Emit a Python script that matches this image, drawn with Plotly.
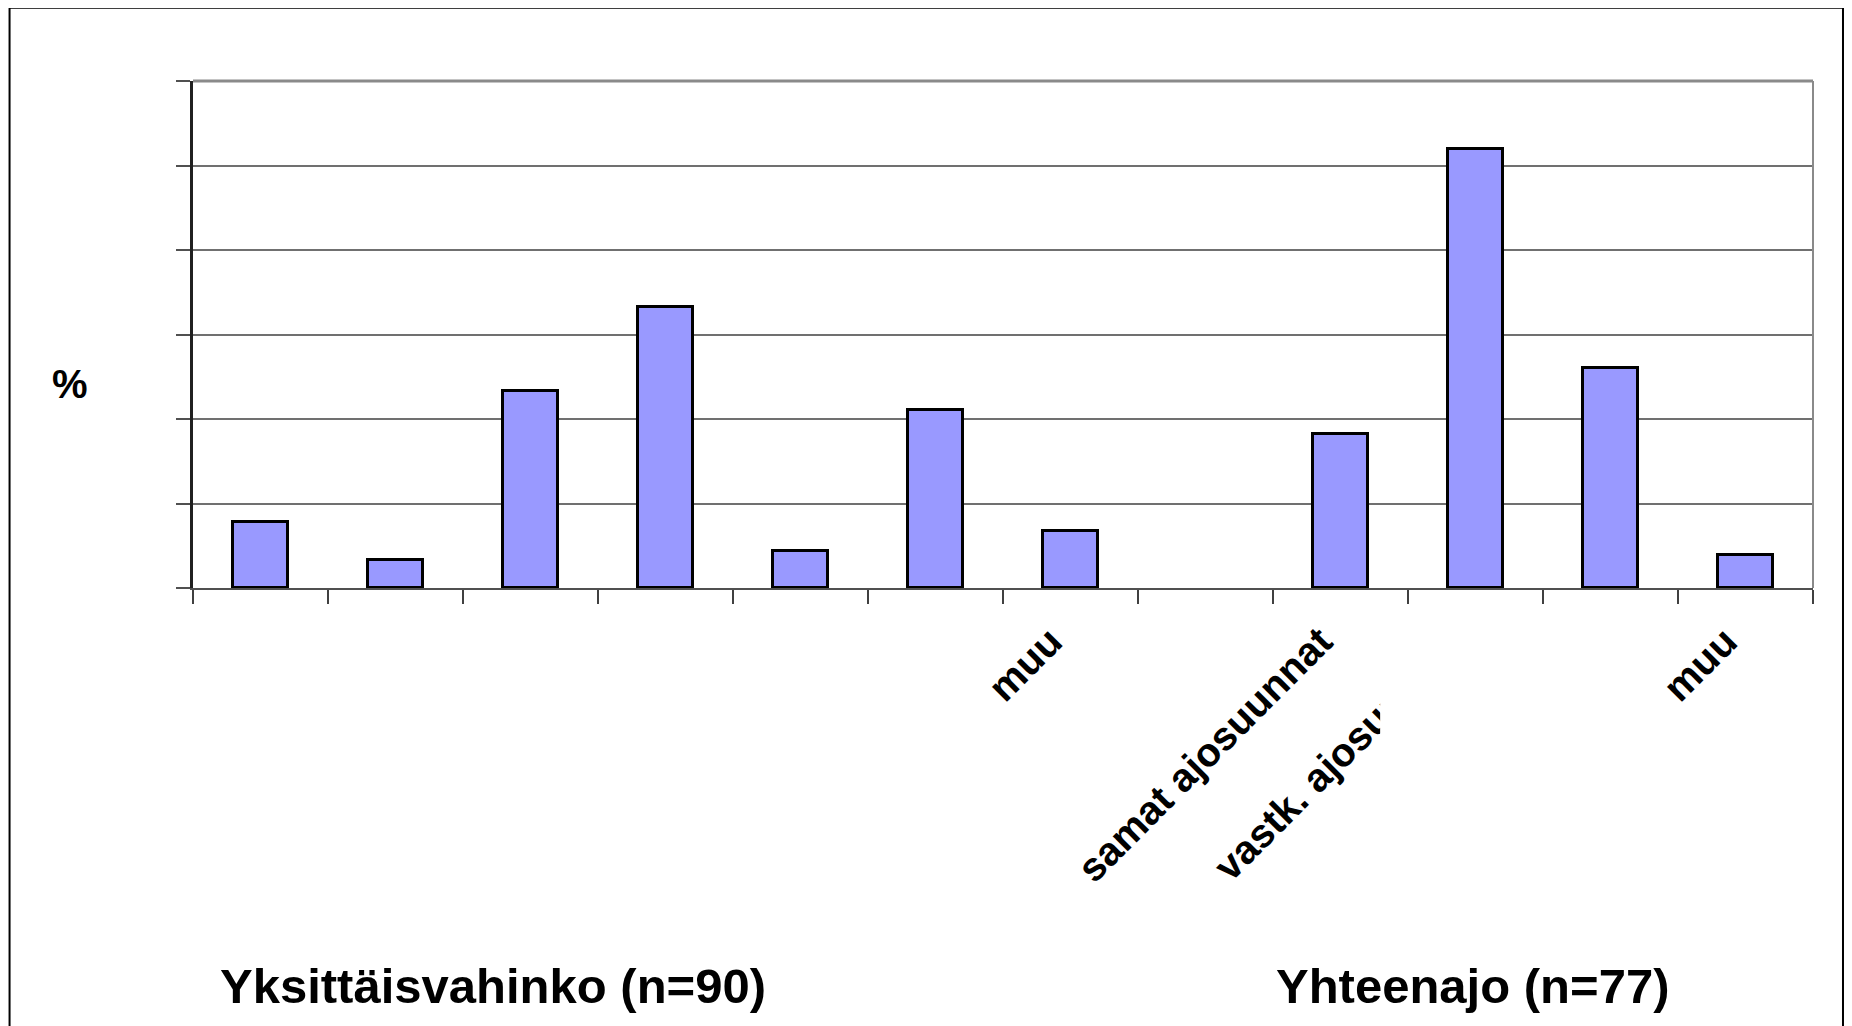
import plotly.graph_objects as go

# ---- data ----
categories = ["", "", "", "", "", "", "muu",
              "", "samat ajosuunnat", "vastk. ajosuunnat", "", "muu"]
values = [7.8, 3.3, 23.3, 33.3, 4.4, 21.1, 6.7, 0.0, 18.2, 51.9, 26.0, 3.9]
group_titles = ["Yksittäisvahinko (n=90)", "Yhteenajo (n=77)"]
y_label = "%"

FONT = "Liberation Sans, Arial, sans-serif"

W, H = 1852, 1026
OFF = 8  # default page body margin
# plot area in reference pixel coordinates
PL, PR, PT, PB = 192.5, 1813, 80.5, 588.5
L = PL - OFF
T = PT - OFF
R = W - (PR - OFF)
B = H - (PB - OFF)


def px(x):
    return (x - PL) / (PR - PL)


def py(y):
    return (PB - y) / (PB - PT)


xs = list(range(len(categories)))

fig = go.Figure(go.Bar(
    x=xs, y=values, width=0.41,
    marker=dict(color="#9999FF",
                line=dict(color="black", width=[3 if v > 0 else 0 for v in values])),
    hoverinfo="skip",
))

fig.update_layout(
    width=W, height=H,
    margin=dict(l=L, r=R, t=T, b=B, autoexpand=False),
    paper_bgcolor="white", plot_bgcolor="white",
    showlegend=False,
    bargap=0,
    font=dict(family=FONT, color="black"),
)

fig.update_xaxes(
    range=[-0.5, len(categories) - 0.5],
    tickmode="array", tickvals=xs, ticktext=[f"<b>{c}</b>" if c else "" for c in categories],
    tickangle=-45, tickfont=dict(size=40, family=FONT, color="black"),
    ticks="", ticklabelstandoff=12, ticklabelshift=-20,
    minor=dict(tickvals=[i - 0.5 for i in range(len(categories) + 1)],
               ticks="outside", ticklen=14, tickwidth=1.5, tickcolor="#404040"),
    showline=True, linecolor="#505050", linewidth=2,
    showgrid=False, zeroline=False, automargin=False,
)

fig.update_yaxes(
    range=[0, 60], dtick=10, tick0=0,
    showticklabels=False,
    ticks="outside", ticklen=14, tickwidth=2, tickcolor="#505050",
    showline=True, linecolor="#202020", linewidth=2.5,
    showgrid=True, gridcolor="#707070", gridwidth=1.5,
    zeroline=False, automargin=False,
)

shapes = [
    # plot area top and right border
    dict(type="line", xref="paper", yref="paper", x0=0, x1=1, y0=1, y1=1,
         line=dict(color="#8a8a8a", width=3)),
    dict(type="line", xref="paper", yref="paper", x0=1, x1=1, y0=0, y1=1,
         line=dict(color="#8a8a8a", width=2)),
    # outer chart border
    dict(type="rect", xref="paper", yref="paper",
         x0=px(9), x1=px(1843), y0=py(1045), y1=py(7),
         line=dict(color="black", width=2), fillcolor="rgba(0,0,0,0)"),
    # white box clipping a category label
    dict(type="rect", xref="paper", yref="paper", layer="above",
         x0=px(1380), x1=px(1560), y0=py(605), y1=py(900),
         line=dict(width=0), fillcolor="white"),
]
fig.update_layout(shapes=shapes)

annotations = [
    dict(text=f"<b>{group_titles[0]}</b>", x=px(493), y=py(987), xref="paper", yref="paper",
         showarrow=False, font=dict(size=49, family=FONT, color="black"),
         xanchor="center", yanchor="middle"),
    dict(text=f"<b>{group_titles[1]}</b>", x=px(1472), y=py(987), xref="paper", yref="paper",
         showarrow=False, font=dict(size=49, family=FONT, color="black"),
         xanchor="center", yanchor="middle"),
    dict(text=f"<b>{y_label}</b>", x=px(69), y=py(384), xref="paper", yref="paper",
         showarrow=False, font=dict(size=40, family=FONT, color="black"),
         xanchor="center", yanchor="middle"),
]
fig.update_layout(annotations=annotations)

fig.write_html("out.html")
